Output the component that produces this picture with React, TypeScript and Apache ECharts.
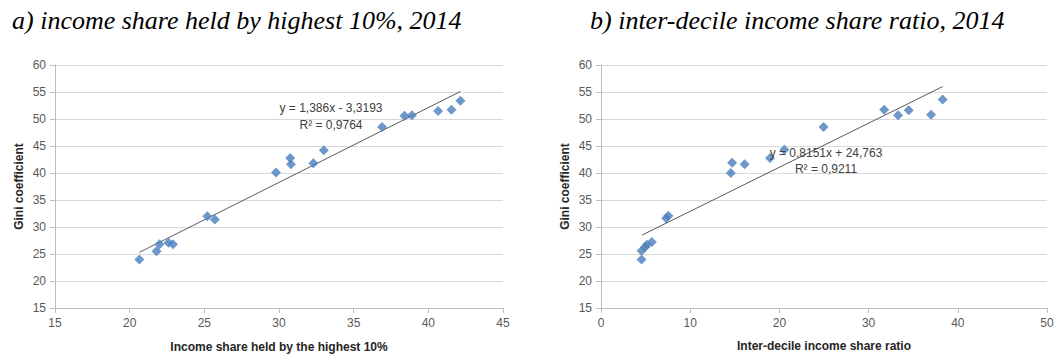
import React, { useEffect, useRef } from "react";
import * as echarts from "echarts";

// Panel a) income share held by highest 10% vs Gini
const shareTop10: number[] = [20.65, 21.8, 22.0, 22.6, 22.9, 25.2, 25.7, 29.8, 30.75, 30.8, 32.3, 33.0, 36.9, 38.4, 38.9, 40.65, 41.55, 42.15];
const giniA: number[] = [24.0, 25.5, 26.8, 27.1, 26.8, 32.0, 31.4, 40.1, 42.8, 41.6, 41.8, 44.2, 48.5, 50.6, 50.7, 51.5, 51.7, 53.4];
const trendA: number[][] = [[20.65, 25.3], [42.15, 55.1]];

// Panel b) inter-decile income share ratio vs Gini
const decileRatio: number[] = [4.55, 4.55, 4.95, 5.15, 5.7, 7.3, 7.55, 14.55, 14.7, 16.1, 18.95, 20.55, 24.95, 31.75, 33.3, 34.5, 37.0, 38.3];
const giniB: number[] = [24.0, 25.6, 26.3, 26.7, 27.2, 31.6, 32.1, 40.0, 41.9, 41.6, 42.8, 44.3, 48.5, 51.7, 50.7, 51.6, 50.8, 53.6];
const trendB: number[][] = [[4.6, 28.5], [38.3, 56.0]];

const titleA = "a) income share held by highest 10%, 2014";
const titleB = "b) inter-decile income share ratio, 2014";
const xNameA = "Income share held by the highest 10%";
const xNameB = "Inter-decile income share ratio";
const yName = "Gini coefficient";
const eqA = ["y = 1,386x - 3,3193", "R² = 0,9764"];
const eqB = ["y = 0,8151x + 24,763", "R² = 0,9211"];

export default function App() {
  const ref = useRef<HTMLDivElement>(null);
  useEffect(() => {
    if (!ref.current) return;
    const chart = echarts.init(ref.current, undefined, { renderer: "svg" });
    const sans = "'Liberation Sans', Arial, sans-serif";
    const tickLabel = { color: "#595959", fontSize: 12, fontFamily: sans, margin: 9 };
    const axisLine = { show: true, lineStyle: { color: "#bfbfbf", width: 1 } };
    const axisTick = { show: true, length: 5, lineStyle: { color: "#bfbfbf" } };
    const splitLine = { show: true, lineStyle: { color: "#d9d9d9", width: 1 } };
    const nameStyle = { color: "#262626", fontSize: 12, fontWeight: "bold" as const, fontFamily: sans };
    const marker = { color: "#4a7ebb" };
    const titleStyle = { fontFamily: "'Liberation Serif', 'Times New Roman', serif", fontStyle: "italic" as const, fontWeight: "normal" as const, fontSize: 26, color: "#000" };
    const eqStyle = { fill: "#404040", fontSize: 12, fontFamily: sans };

    const yAxisBase = {
      type: "value" as const, min: 15, max: 60, interval: 5,
      name: yName, nameLocation: "middle" as const, nameGap: 30, nameRotate: 90,
      nameTextStyle: nameStyle, axisLine, axisTick, splitLine, axisLabel: tickLabel,
    };

    chart.setOption({
      animation: false,
      title: [
        { text: titleA, left: 7, top: 2, textStyle: titleStyle },
        { text: titleB, left: 585, top: 2, textStyle: titleStyle },
      ],
      grid: [
        { left: 55, right: 554, top: 65, bottom: 49 },
        { left: 601, right: 10, top: 65, bottom: 50 },
      ],
      xAxis: [
        { gridIndex: 0, type: "value", min: 15, max: 45, interval: 5, name: xNameA, nameLocation: "middle", nameGap: 33, nameTextStyle: nameStyle, axisLine, axisTick, splitLine: { show: false }, axisLabel: tickLabel },
        { gridIndex: 1, type: "value", min: 0, max: 50, interval: 10, name: xNameB, nameLocation: "middle", nameGap: 32, nameTextStyle: nameStyle, axisLine, axisTick, splitLine: { show: false }, axisLabel: tickLabel },
      ],
      yAxis: [
        { ...yAxisBase, gridIndex: 0 },
        { ...yAxisBase, gridIndex: 1 },
      ],
      series: [
        { type: "line", xAxisIndex: 0, yAxisIndex: 0, data: trendA, symbol: "none", lineStyle: { color: "#595959", width: 1 }, z: 1 },
        { type: "scatter", xAxisIndex: 0, yAxisIndex: 0, data: shareTop10.map((x, i) => [x, giniA[i]]), symbol: "diamond", symbolSize: 10, itemStyle: marker, z: 2 },
        { type: "line", xAxisIndex: 1, yAxisIndex: 1, data: trendB, symbol: "none", lineStyle: { color: "#595959", width: 1 }, z: 1 },
        { type: "scatter", xAxisIndex: 1, yAxisIndex: 1, data: decileRatio.map((x, i) => [x, giniB[i]]), symbol: "diamond", symbolSize: 10, itemStyle: marker, z: 2 },
      ],
      graphic: [
        { type: "text", x: 331, y: 108, style: { ...eqStyle, text: eqA[0], align: "center", verticalAlign: "middle" }, z: 10 },
        { type: "text", x: 331, y: 125, style: { ...eqStyle, text: eqA[1], align: "center", verticalAlign: "middle" }, z: 10 },
        { type: "text", x: 826, y: 153, style: { ...eqStyle, text: eqB[0], align: "center", verticalAlign: "middle" }, z: 10 },
        { type: "text", x: 826, y: 169, style: { ...eqStyle, text: eqB[1], align: "center", verticalAlign: "middle" }, z: 10 },
      ],
    });
    return () => chart.dispose();
  }, []);
  return <div ref={ref} style={{ position: "fixed", left: 0, top: 0, width: 1057, height: 358, background: "#fff" }} />;
}
